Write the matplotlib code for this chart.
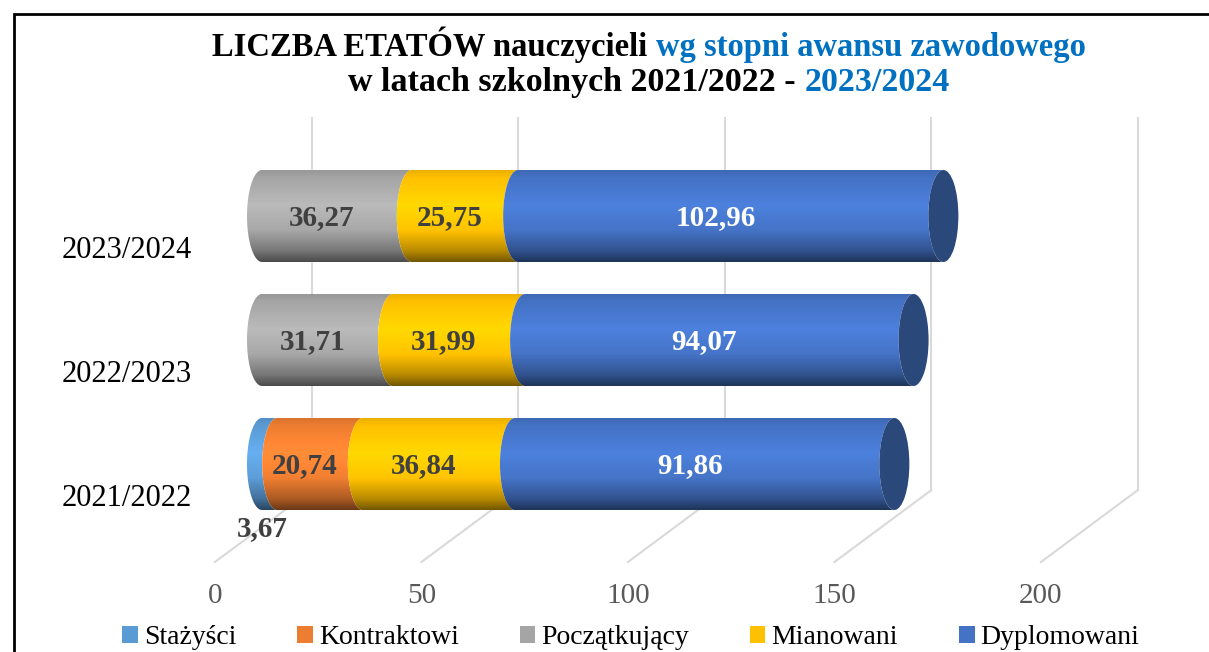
import numpy as np
import matplotlib.pyplot as plt
from matplotlib.patches import Ellipse, Polygon, Patch, Rectangle
from matplotlib.colors import to_rgb

# --- dane ---
years = ['2021/2022', '2022/2023', '2023/2024']
groups = ['Stażyści', 'Kontraktowi', 'Początkujący', 'Mianowani', 'Dyplomowani']
colors = ['#5B9BD5', '#ED7D31', '#A5A5A5', '#FFC000', '#4472C4']
stazysci = [3.67, 0, 0]
kontraktowi = [20.74, 0, 0]
poczatkujacy = [0, 31.71, 36.27]
mianowani = [36.84, 31.99, 25.75]
dyplomowani = [91.86, 94.07, 102.96]
ticks = [0, 50, 100, 150, 200]

series = [stazysci, kontraktowi, poczatkujacy, mianowani, dyplomowani]

FONT = ['Liberation Serif', 'DejaVu Serif']
W, H = 1209, 652
fig = plt.figure(figsize=(W / 100, H / 100), dpi=100)
ax = fig.add_axes([0, 0, 1, 1])

# --- geometria 3D (os x w jednostkach danych, os y w pikselach od gory) ---
PX = 4.13          # px na jednostke
X0 = 262           # piksel wartosci 0 na glebokosci slupkow
DX = 97 / PX       # przesuniecie glebi w x
DY = 72            # przesuniecie glebi w y
F = 0.485          # glebokosc slupkow
Y_FRONT = 562
Y_TOP = 118
a = 15 / PX        # polos elipsy (x)
b = 46             # polos elipsy (y)

ax.set_xlim(-X0 / PX, (W - X0) / PX)
ax.set_ylim(H, 0)
ax.axis('off')

# siatka
for t in ticks:
    xf = t - F * DX
    xb = t + (1 - F) * DX
    ax.plot([xf, xb], [Y_FRONT, Y_FRONT - DY], color='#D9D9D9', lw=1.5, zorder=1)
    ax.plot([xb, xb], [Y_FRONT - DY, Y_TOP], color='#D9D9D9', lw=1.5, zorder=1)
    ax.text(xf, 596, str(t), ha='center', va='center', color='#595959',
            fontsize=21, family=FONT)

# cieniowanie walca
tt = np.linspace(0, 1, 200)
prof = np.interp(tt, [0, 0.08, 0.38, 0.65, 0.88, 1.0],
                 [0.92, 1.0, 1.13, 1.02, 0.72, 0.45])

phi = np.linspace(-np.pi / 2, np.pi / 2, 80)

for i, yr in enumerate(years):
    yc = 464 - 124 * i
    left = 0
    vals = [s[i] for s in series]
    end = sum(vals)
    for k, v in enumerate(vals):
        if v <= 0:
            continue
        x0, x1 = left, left + v
        base = np.array(to_rgb(colors[k]))
        grad = np.clip(prof[:, None] * base[None, :], 0, 1)[:, None, :]
        pts = np.vstack([
            np.column_stack([x0 - a * np.cos(phi), yc + b * np.sin(phi)]),
            np.column_stack([x1 - a * np.cos(phi[::-1]), yc + b * np.sin(phi[::-1])]),
        ])
        poly = Polygon(pts, closed=True, transform=ax.transData)
        im = ax.imshow(grad, extent=(x0 - a - 1, x1 + 1, yc + b, yc - b),
                       origin='upper', aspect='auto', zorder=2, interpolation='bilinear')
        im.set_clip_path(poly)
        # etykieta
        lc = 'white' if k == len(series) - 1 else '#404040'
        lab = f'{v:.2f}'.replace('.', ',')
        if v < 6:
            ax.text((x0 + x1) / 2 - a / 2, yc + b + 19, lab, ha='center', va='center',
                    color='#404040', fontsize=21, fontweight='bold', family=FONT, zorder=5)
        else:
            ax.text((x0 + x1) / 2 - a, yc + 2, lab, ha='center', va='center',
                    color=lc, fontsize=21, fontweight='bold', family=FONT, zorder=5)
        left = x1
    # denko
    last = np.array(to_rgb(colors[-1]))
    ax.add_patch(Ellipse((end, yc), 2 * a, 2 * b, facecolor=last * 0.63,
                         edgecolor='none', zorder=3))
    ax.text(-F * DX - 5.5, yc + F * DY, yr, ha='right', va='center',
            fontsize=22, family=FONT, color='black')

ax.set_xlim(-X0 / PX, (W - X0) / PX)
ax.set_ylim(H, 0)

# --- tytul ---
def title_line(black, blue, y, size=23.5):
    r = fig.canvas.get_renderer()
    full = fig.text(0, 0, black + ' ' + blue, fontsize=size, fontweight='bold', family=FONT)
    w = full.get_window_extent(r).width
    full.remove()
    xs = (649 - w / 2) / W
    xe = (649 + w / 2) / W
    fig.text(xs, y, black, ha='left', va='baseline', fontsize=size, fontweight='bold',
             family=FONT, color='black')
    fig.text(xe, y, blue, ha='right', va='baseline', fontsize=size, fontweight='bold',
             family=FONT, color='#0070C0')

title_line('LICZBA ETATÓW nauczycieli', 'wg stopni awansu zawodowego', 1 - 56 / H)
title_line('w latach szkolnych 2021/2022 -', '2023/2024', 1 - 91 / H, size=24.5)

# --- legenda ---
handles = [Patch(facecolor=c, edgecolor='none') for c in colors]
fig.legend(handles, groups, ncol=5, loc='center', bbox_to_anchor=(631 / W, 1 - 638 / H),
           frameon=False, prop={'family': FONT, 'size': 20}, handlelength=0.55,
           handleheight=0.55, handletextpad=0.22, columnspacing=2.2, borderpad=0)

# ramka
fig.patches.append(Rectangle((14 / W, -0.1), 1.2, 1.1 - 14 / H, transform=fig.transFigure,
                             fill=False, edgecolor='black', lw=2))

fig.savefig('out.png', dpi=100)
